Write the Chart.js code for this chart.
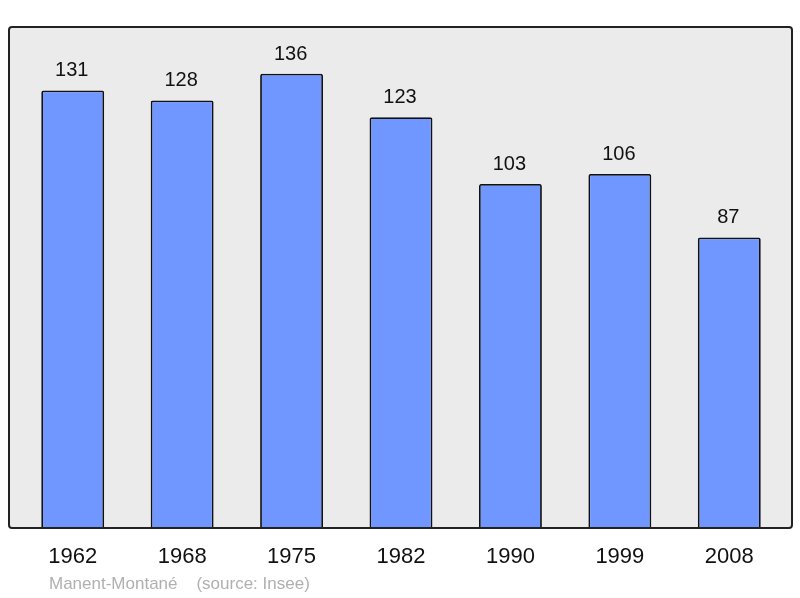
<!DOCTYPE html>
<html>
<head>
<meta charset="utf-8">
<script src="https://cdn.jsdelivr.net/npm/chart.js@4/dist/chart.umd.min.js"></script>
<style>
html,body{margin:0;padding:0;background:#fff;}
#wrap{position:relative;width:800px;height:598px;}
canvas{display:block;}
</style>
</head>
<body>
<div id="wrap"><canvas id="c" width="800" height="598"></canvas></div>
<script>
const years = ["1962","1968","1975","1982","1990","1999","2008"];
const population = [131,128,136,123,103,106,87];
const sourceText = "Manent-Montané    (source: Insee)";

const FONT = "'Liberation Sans', Arial, sans-serif";

const framePlugin = {
  id: 'frame',
  beforeDraw(chart) {
    const ctx = chart.ctx, a = chart.chartArea;
    const x0 = 9, x1 = 792, y0 = a.top, y1 = a.bottom;
    ctx.save();
    ctx.beginPath();
    if (ctx.roundRect) ctx.roundRect(x0, y0, x1 - x0, y1 - y0, 3); else ctx.rect(x0, y0, x1 - x0, y1 - y0);
    ctx.fillStyle = '#ebebeb';
    ctx.fill();
    ctx.restore();
  },
  afterDatasetsDraw(chart) {
    const ctx = chart.ctx, a = chart.chartArea;
    const x0 = 9, x1 = 792, y0 = a.top, y1 = a.bottom;
    ctx.save();
    ctx.beginPath();
    if (ctx.roundRect) ctx.roundRect(x0, y0, x1 - x0, y1 - y0, 3); else ctx.rect(x0, y0, x1 - x0, y1 - y0);
    ctx.lineWidth = 2;
    ctx.strokeStyle = '#222';
    ctx.stroke();
    // value labels
    const meta = chart.getDatasetMeta(0);
    ctx.fillStyle = '#111';
    ctx.font = "20px " + FONT;
    ctx.textAlign = 'center';
    ctx.textBaseline = 'alphabetic';
    meta.data.forEach((bar, i) => {
      ctx.fillText(String(population[i]), bar.x - 1, bar.y - 14);
    });
    // source
    ctx.fillStyle = '#b0b0b0';
    ctx.font = "17px " + FONT;
    ctx.textAlign = 'left';
    ctx.fillText(sourceText, 49, 589);
    ctx.restore();
  }
};

new Chart(document.getElementById('c'), {
  type: 'bar',
  data: {
    labels: years,
    datasets: [{
      data: population,
      backgroundColor: '#7096ff',
      borderColor: '#111',
      borderWidth: 1.8,
      borderRadius: 2,
      borderSkipped: 'bottom',
      categoryPercentage: 1,
      barPercentage: 0.575
    }]
  },
  options: {
    responsive: false,
    animation: false,
    layout: { padding: { left: 18, right: 16, top: 27, bottom: 0 } },
    plugins: { legend: { display: false }, tooltip: { enabled: false } },
    scales: {
      y: { display: false, min: 0, max: 150 },
      x: {
        grid: { display: false },
        border: { display: false },
        ticks: { color: '#111', font: { family: FONT, size: 22 }, padding: 8 },
        afterFit(scale) { scale.height = 70; }
      }
    }
  },
  plugins: [framePlugin]
});
</script>
</body>
</html>
